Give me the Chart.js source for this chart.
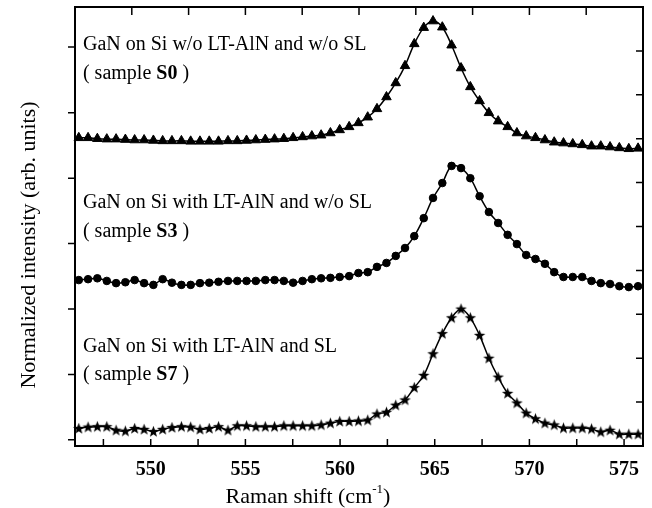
<!DOCTYPE html>
<html>
<head>
<meta charset="utf-8">
<script src="https://cdn.jsdelivr.net/npm/chart.js@4/dist/chart.umd.min.js"></script>
<style>
  body { margin: 0; background: #fff; }
  canvas { display: block; }
</style>
</head>
<body>
<canvas id="ramanChart" width="652" height="508"></canvas>
<script>
// Raman shift (cm-1) sampling grid, shared by the three spectra
const ramanShift = [
  546.20, 546.69, 547.18, 547.68, 548.17, 548.66, 549.15, 549.65, 550.14, 550.63,
  551.12, 551.62, 552.11, 552.60, 553.09, 553.58, 554.08, 554.57, 555.06, 555.55,
  556.05, 556.54, 557.03, 557.52, 558.02, 558.51, 559.00, 559.49, 559.98, 560.48,
  560.97, 561.46, 561.95, 562.45, 562.94, 563.43, 563.92, 564.42, 564.91, 565.40,
  565.89, 566.39, 566.88, 567.37, 567.86, 568.35, 568.85, 569.34, 569.83, 570.32,
  570.82, 571.31, 571.80, 572.29, 572.79, 573.28, 573.77, 574.26, 574.75, 575.25, 575.74
];

// normalized intensities (stacked, arb. units)
const sampleS0 = [
  7.02, 7.02, 7.00, 6.99, 6.99, 6.98, 6.97, 6.97, 6.96, 6.95,
  6.95, 6.95, 6.94, 6.94, 6.94, 6.94, 6.95, 6.95, 6.96, 6.97,
  6.98, 6.99, 7.00, 7.02, 7.04, 7.06, 7.08, 7.13, 7.20, 7.27,
  7.36, 7.49, 7.68, 7.95, 8.27, 8.66, 9.16, 9.53, 9.68, 9.54,
  9.13, 8.61, 8.18, 7.86, 7.59, 7.40, 7.27, 7.13, 7.06, 7.02,
  6.97, 6.92, 6.90, 6.88, 6.86, 6.83, 6.83, 6.81, 6.79, 6.77, 6.78
];
const sampleS3 = [
  3.78, 3.80, 3.82, 3.76, 3.71, 3.73, 3.78, 3.71, 3.67, 3.80,
  3.72, 3.67, 3.67, 3.71, 3.72, 3.74, 3.76, 3.76, 3.76, 3.76,
  3.78, 3.78, 3.76, 3.72, 3.76, 3.80, 3.82, 3.83, 3.85, 3.87,
  3.94, 3.96, 4.08, 4.17, 4.33, 4.51, 4.78, 5.19, 5.65, 5.99,
  6.38, 6.33, 6.10, 5.69, 5.33, 5.08, 4.81, 4.60, 4.35, 4.26,
  4.15, 3.96, 3.85, 3.85, 3.85, 3.76, 3.71, 3.69, 3.64, 3.62, 3.64
];
const sampleS7 = [
  0.40, 0.43, 0.44, 0.44, 0.36, 0.34, 0.40, 0.38, 0.33, 0.38,
  0.42, 0.44, 0.43, 0.38, 0.40, 0.44, 0.36, 0.46, 0.46, 0.44,
  0.44, 0.44, 0.46, 0.46, 0.46, 0.46, 0.48, 0.52, 0.56, 0.56,
  0.57, 0.59, 0.73, 0.77, 0.93, 1.05, 1.33, 1.61, 2.10, 2.56,
  2.92, 3.12, 2.92, 2.52, 2.00, 1.57, 1.20, 0.98, 0.75, 0.62,
  0.52, 0.48, 0.41, 0.41, 0.41, 0.39, 0.32, 0.36, 0.27, 0.27, 0.27
];

const xTickLabels = [550, 555, 560, 565, 570, 575];
const bottomTicks = [547.5, 550, 552.5, 555, 557.5, 560, 562.5, 565, 567.5, 570, 572.5, 575];
const topTicks = [549, 552, 555, 558, 561, 564, 567, 570, 573];
const leftTicks = [0.14, 1.63, 3.12, 4.61, 6.10, 7.59, 9.09];
const rightTicks = [1, 2, 3, 4, 5, 6, 7, 8, 9];

const sampleTitles = ['GaN on Si w/o LT-AlN and w/o SL', 'GaN on Si with LT-AlN and w/o SL', 'GaN on Si with LT-AlN and SL'];
const sampleNames = ['S0', 'S3', 'S7'];
// where each caption sits (x value, baseline of first and second line)
const captionSpots = [
  { x: 546.42, y1: 9.02, y2: 8.36 },
  { x: 546.42, y1: 5.42, y2: 4.76 },
  { x: 546.42, y1: 2.14, y2: 1.50 }
];

const serif = '"Liberation Serif", "Times New Roman", serif';

// filled five-point star marker
function makeStar() {
  const c = document.createElement('canvas');
  c.width = 13; c.height = 13;
  const g = c.getContext('2d');
  g.fillStyle = '#000';
  g.beginPath();
  for (let i = 0; i < 10; i++) {
    const r = i % 2 === 0 ? 6 : 2.5;
    const a = -Math.PI / 2 + i * Math.PI / 5;
    const px = 6.5 + r * Math.cos(a), py = 6.8 + r * Math.sin(a);
    if (i === 0) g.moveTo(px, py); else g.lineTo(px, py);
  }
  g.closePath();
  g.fill();
  return c;
}

function series(values, style, radius) {
  return {
    data: ramanShift.map((x, i) => ({ x: x, y: values[i] })),
    borderColor: '#000',
    borderWidth: 1.5,
    backgroundColor: '#000',
    pointBackgroundColor: '#000',
    pointBorderColor: '#000',
    pointBorderWidth: 1,
    pointStyle: style,
    pointRadius: radius,
    tension: 0.35,
    fill: false,
    clip: 8
  };
}

const framePlugin = {
  id: 'frame',
  afterDraw(chart) {
    const ctx = chart.ctx;
    const a = chart.chartArea;
    const x = chart.scales.x, y = chart.scales.y;
    ctx.save();
    ctx.strokeStyle = '#000';
    ctx.lineWidth = 2;
    ctx.strokeRect(a.left, a.top, a.right - a.left, a.bottom - a.top);

    ctx.lineWidth = 1.5;
    ctx.beginPath();
    bottomTicks.forEach(v => {
      const px = x.getPixelForValue(v);
      ctx.moveTo(px, a.bottom); ctx.lineTo(px, a.bottom - 7);
    });
    topTicks.forEach(v => {
      const px = x.getPixelForValue(v);
      ctx.moveTo(px, a.top); ctx.lineTo(px, a.top + 8);
    });
    leftTicks.forEach(v => {
      const py = y.getPixelForValue(v);
      ctx.moveTo(a.left, py); ctx.lineTo(a.left - 7, py);
    });
    rightTicks.forEach(v => {
      const py = y.getPixelForValue(v);
      ctx.moveTo(a.right, py); ctx.lineTo(a.right - 7, py);
    });
    ctx.stroke();

    // captions
    ctx.fillStyle = '#000';
    ctx.textBaseline = 'alphabetic';
    ctx.textAlign = 'left';
    captionSpots.forEach((s, i) => {
      const px = x.getPixelForValue(s.x);
      ctx.font = '20px ' + serif;
      ctx.fillText(sampleTitles[i], px, y.getPixelForValue(s.y1));
      const py2 = y.getPixelForValue(s.y2);
      let cx = px;
      ctx.fillText('( sample ', cx, py2);
      cx += ctx.measureText('( sample ').width;
      ctx.font = 'bold 20px ' + serif;
      ctx.fillText(sampleNames[i], cx, py2);
      cx += ctx.measureText(sampleNames[i]).width;
      ctx.font = '20px ' + serif;
      ctx.fillText(' )', cx, py2);
    });

    // x axis title with superscript
    const main = 'Raman shift (cm';
    ctx.font = '22px ' + serif;
    const w1 = ctx.measureText(main).width;
    ctx.font = '13px ' + serif;
    const w2 = ctx.measureText('-1').width;
    ctx.font = '22px ' + serif;
    const w3 = ctx.measureText(')').width;
    let tx = 308 - (w1 + w2 + w3) / 2;
    ctx.fillText(main, tx, 503);
    tx += w1;
    ctx.font = '13px ' + serif;
    ctx.fillText('-1', tx, 493);
    tx += w2;
    ctx.font = '22px ' + serif;
    ctx.fillText(')', tx, 503);

    // y axis title
    ctx.translate(35, 245);
    ctx.rotate(-Math.PI / 2);
    ctx.textAlign = 'center';
    ctx.fillText('Normalized intensity (arb. units)', 0, 0);
    ctx.restore();
  }
};

new Chart(document.getElementById('ramanChart').getContext('2d'), {
  type: 'line',
  data: {
    datasets: [
      series(sampleS0, 'triangle', 5.5),
      series(sampleS3, 'circle', 3.8),
      series(sampleS7, makeStar(), 6)
    ]
  },
  options: {
    responsive: false,
    animation: false,
    layout: { padding: { left: 75, right: 9, top: 7, bottom: 0 } },
    plugins: {
      legend: { display: false },
      tooltip: { enabled: false }
    },
    scales: {
      x: {
        type: 'linear',
        min: 546,
        max: 576,
        grid: { display: false, drawTicks: false },
        border: { display: false },
        afterBuildTicks: scale => { scale.ticks = xTickLabels.map(v => ({ value: v })); },
        afterFit: scale => { scale.height = 62; },
        ticks: {
          padding: 12,
          color: '#000',
          maxRotation: 0,
          autoSkip: false,
          font: { family: serif, size: 20, weight: 'bold' }
        }
      },
      y: {
        display: false,
        min: 0,
        max: 10
      }
    }
  },
  plugins: [framePlugin]
});
</script>
</body>
</html>
